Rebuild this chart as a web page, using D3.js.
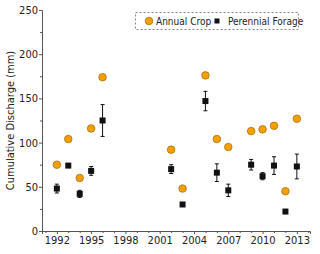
<!DOCTYPE html>
<html>
<head>
<meta charset="utf-8">
<script src="https://cdnjs.cloudflare.com/ajax/libs/d3/7.8.5/d3.min.js"></script>
<style>
  body { margin: 0; background: #fff; }
  text { font-family: "DejaVu Sans Condensed", "DejaVu Sans", sans-serif; }
</style>
</head>
<body>
<div id="wrapper"></div>
<script>
// data
const cropYears = [1992, 1993, 1994, 1995, 1996, 2002, 2003, 2005, 2006, 2007, 2009, 2010, 2011, 2012, 2013]
const cropValues = [75, 104, 60, 116, 174, 92, 48, 176, 104, 95, 113, 115, 119, 45, 127]

const forageYears = [1992, 1993, 1994, 1995, 1996, 2002, 2003, 2005, 2006, 2007, 2009, 2010, 2011, 2012, 2013]
const forageValues = [48, 74, 42, 68, 125, 70, 30, 147, 66, 46, 75, 62, 74, 22, 73]
const forageErrors = [5, 0, 4, 5, 18, 5, 0, 11, 10, 7, 6, 4, 10, 0, 14]

const xTicks = [1992, 1995, 1998, 2001, 2004, 2007, 2010, 2013]
const yTicks = [0, 50, 100, 150, 200, 250]

const seriesNames = ["Annual Crop", "Perennial Forage"]

function drawChart() {
  const dimensions = {
    width: 320,
    height: 254,
    margin: { top: 10, right: 10, bottom: 23, left: 42 }
  }
  dimensions.boundedWidth = dimensions.width - dimensions.margin.left - dimensions.margin.right
  dimensions.boundedHeight = dimensions.height - dimensions.margin.top - dimensions.margin.bottom

  const wrapper = d3.select("#wrapper")
    .append("svg")
      .attr("width", dimensions.width)
      .attr("height", dimensions.height)

  const bounds = wrapper.append("g")
    .attr("transform", `translate(${dimensions.margin.left},${dimensions.margin.top})`)

  // scales
  const xScale = d3.scaleLinear()
    .domain([1990.7, 2014.15])
    .range([0, dimensions.boundedWidth])

  const yScale = d3.scaleLinear()
    .domain([0, 250])
    .range([dimensions.boundedHeight, 0])

  // axes
  const axisColor = "#555"
  const yMinor = bounds.append("g")
    .call(d3.axisLeft(yScale).tickValues(d3.range(25, 250, 50)).tickSize(2).tickFormat(""))
  const yAxis = bounds.append("g")
    .call(d3.axisLeft(yScale).tickValues(yTicks).tickSize(3).tickPadding(1))

  const xMinor = bounds.append("g")
    .attr("transform", `translate(0,${dimensions.boundedHeight})`)
    .call(d3.axisBottom(xScale).tickValues(d3.range(1991, 2015).filter(d => !xTicks.includes(d))).tickSize(2).tickFormat(""))
  const xAxis = bounds.append("g")
    .attr("transform", `translate(0,${dimensions.boundedHeight})`)
    .call(d3.axisBottom(xScale).tickValues(xTicks).tickSize(3).tickFormat(d3.format("d")).tickPadding(2))

  bounds.selectAll(".domain").attr("stroke", axisColor)
  bounds.selectAll(".tick line").attr("stroke", axisColor)
  bounds.selectAll(".tick text")
    .attr("fill", "#222")
    .style("font-size", "11px")
    .style("font-family", "'DejaVu Sans Condensed', 'DejaVu Sans', sans-serif")
  yMinor.select(".domain").remove()
  xMinor.select(".domain").remove()

  wrapper.append("text")
    .attr("transform", `translate(14,${dimensions.margin.top + dimensions.boundedHeight / 2}) rotate(-90)`)
    .attr("text-anchor", "middle")
    .attr("fill", "#222")
    .style("font-size", "11px")
    .text("Cumulative Discharge (mm)")

  // forage error bars
  const forage = forageYears.map((d, i) => ({ year: d, value: forageValues[i], err: forageErrors[i] }))
  const errGroup = bounds.append("g")
    .selectAll("g")
    .data(forage.filter(d => d.err > 0))
    .join("g")
      .attr("stroke", "#111")
      .attr("stroke-width", 1)
  errGroup.append("line")
    .attr("x1", d => xScale(d.year)).attr("x2", d => xScale(d.year))
    .attr("y1", d => yScale(d.value + d.err)).attr("y2", d => yScale(d.value - d.err))
  errGroup.append("line")
    .attr("x1", d => xScale(d.year) - 2).attr("x2", d => xScale(d.year) + 2)
    .attr("y1", d => yScale(d.value + d.err)).attr("y2", d => yScale(d.value + d.err))
  errGroup.append("line")
    .attr("x1", d => xScale(d.year) - 2).attr("x2", d => xScale(d.year) + 2)
    .attr("y1", d => yScale(d.value - d.err)).attr("y2", d => yScale(d.value - d.err))

  const sq = 6
  bounds.append("g")
    .selectAll("rect")
    .data(forage)
    .join("rect")
      .attr("x", d => xScale(d.year) - sq / 2)
      .attr("y", d => yScale(d.value) - sq / 2)
      .attr("width", sq)
      .attr("height", sq)
      .attr("fill", "#111")

  // annual crop circles
  const crop = cropYears.map((d, i) => ({ year: d, value: cropValues[i] }))
  bounds.append("g")
    .selectAll("circle")
    .data(crop)
    .join("circle")
      .attr("cx", d => xScale(d.year))
      .attr("cy", d => yScale(d.value))
      .attr("r", 3.8)
      .attr("fill", "#f5a000")
      .attr("stroke", "#9a6a10")
      .attr("stroke-width", 0.7)

  // legend
  const legend = wrapper.append("g")
  legend.append("rect")
    .attr("x", 135.5).attr("y", 12.5)
    .attr("width", 163).attr("height", 17)
    .attr("fill", "none")
    .attr("stroke", "#888")
    .attr("stroke-dasharray", "2,2")
  legend.append("circle")
    .attr("cx", 149).attr("cy", 21).attr("r", 3.8)
    .attr("fill", "#f5a000").attr("stroke", "#9a6a10").attr("stroke-width", 0.7)
  legend.append("text")
    .attr("x", 156).attr("y", 24.5)
    .attr("fill", "#222").style("font-size", "10px")
    .text(seriesNames[0])
  legend.append("rect")
    .attr("x", 214.5).attr("y", 18.5).attr("width", 5).attr("height", 5)
    .attr("fill", "#111")
  legend.append("text")
    .attr("x", 228).attr("y", 24.5)
    .attr("fill", "#222").style("font-size", "10px")
    .text(seriesNames[1])
}

drawChart()
</script>
</body>
</html>
